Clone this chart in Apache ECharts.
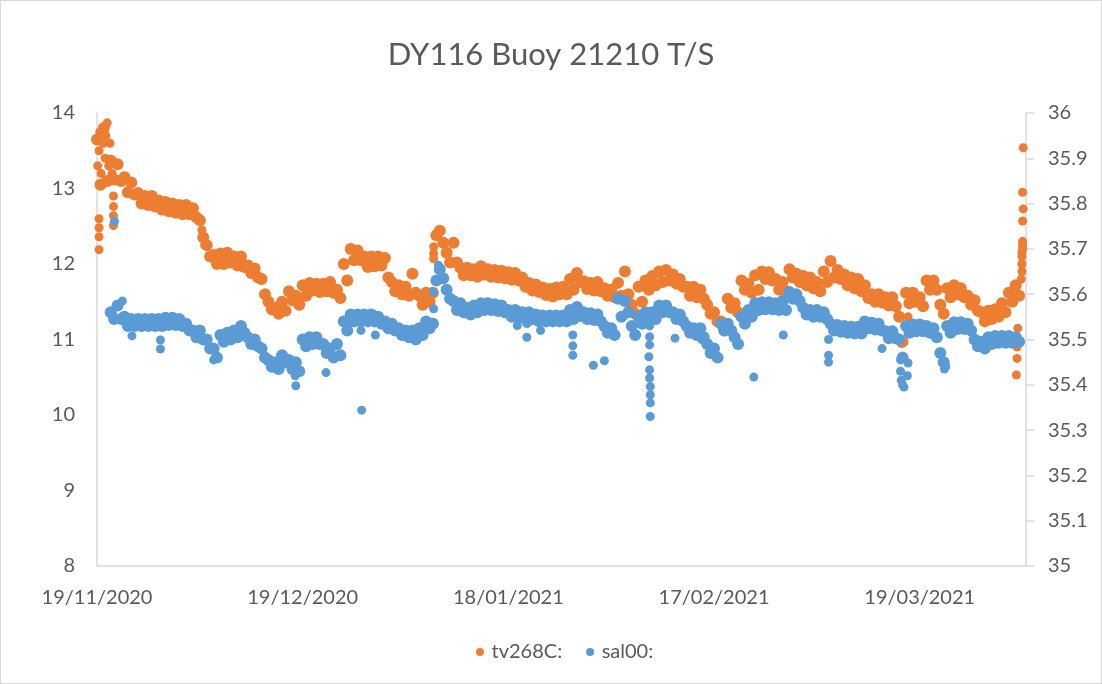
<!DOCTYPE html>
<html>
<head>
<meta charset="utf-8">
<script src="https://cdn.jsdelivr.net/npm/echarts@6/dist/echarts.min.js"></script>
<style>
  html, body { margin: 0; padding: 0; background: #fff; }
  #chart { width: 1102px; height: 684px; box-sizing: border-box; border: 1px solid #d9d9d9; }
</style>
</head>
<body>
<div id="chart"></div>
<script>
// day 0 = 19/11/2020, samples every half day
const startDate = Date.UTC(2020, 10, 19)
const step = 0.5

const xTickDays = [0, 30, 60, 90, 120]

// tv268C: temperature, from day 0 (two readings per day)
const temp = [
  13.65, 13.05, 13.8, 13.1, 13.37, 13.12, 13.32, 13.1, 13.15, 12.95,
  13.08, 12.92, 12.94, 12.8, 12.9, 12.78, 12.9, 12.76, 12.84, 12.72,
  12.82, 12.7, 12.8, 12.68, 12.78, 12.66, 12.78, 12.66, 12.74, 12.62,
  12.58, 12.35, 12.25, 12.1, 12.12, 12.0, 12.14, 12.0, 12.15, 12.02,
  12.1, 11.98, 12.1, 11.96, 11.98, 11.88, 11.94, 11.82, 11.8, 11.6,
  11.5, 11.4, 11.42, 11.34, 11.5, 11.38, 11.64, 11.52, 11.58, 11.46,
  11.72, 11.58, 11.75, 11.65, 11.74, 11.63, 11.74, 11.64, 11.76, 11.62,
  11.66, 11.55, 12.0, 11.78, 12.2, 12.05, 12.18, 12.05, 12.1, 11.96,
  12.1, 11.97, 12.1, 11.98, 12.08, 11.82, 11.76, 11.64, 11.72, 11.6,
  11.7, 11.58, 11.87, 11.62, 11.58, 11.46, 11.62, 11.5, 11.62, 12.38,
  12.44, 12.28, 12.15, 12.02, 12.28, 12.02, 11.95, 11.85, 11.95, 11.85,
  11.93, 11.83, 11.97, 11.86, 11.93, 11.83, 11.92, 11.82, 11.91, 11.81,
  11.89, 11.79, 11.88, 11.78, 11.82, 11.7, 11.75, 11.65, 11.73, 11.63,
  11.69, 11.59, 11.67, 11.57, 11.69, 11.6, 11.7, 11.6, 11.8, 11.66,
  11.88, 11.76, 11.77, 11.67, 11.75, 11.65, 11.76, 11.64, 11.68, 11.58,
  11.66, 11.56, 11.75, 11.58, 11.9, 11.6, 11.46, 11.34, 11.7, 11.5,
  11.78, 11.66, 11.84, 11.72, 11.9, 11.76, 11.92, 11.78, 11.86, 11.74,
  11.8, 11.7, 11.7, 11.58, 11.7, 11.56, 11.66, 11.54, 11.46, 11.34,
  11.36, 11.24, 11.24, 11.12, 11.54, 11.42, 11.48, 11.36, 11.78, 11.66,
  11.74, 11.62, 11.85, 11.66, 11.9, 11.8, 11.89, 11.78, 11.8, 11.66,
  11.76, 11.64, 11.93, 11.82, 11.87, 11.76, 11.84, 11.72, 11.82, 11.68,
  11.76, 11.64, 11.9, 11.76, 12.04, 11.82, 11.92, 11.8, 11.86, 11.72,
  11.82, 11.68, 11.8, 11.64, 11.72, 11.55, 11.6, 11.5, 11.6, 11.49,
  11.56, 11.45, 11.56, 11.44, 11.3, 10.97, 11.62, 11.48, 11.62, 11.5,
  11.56, 11.44, 11.78, 11.66, 11.78, 11.66, 11.46, 11.34, 11.68, 11.56,
  11.72, 11.6, 11.68, 11.56, 11.58, 11.46, 11.52, 11.38, 11.36, 11.24,
  11.38, 11.27, 11.4, 11.3, 11.48, 11.36, 11.62, 11.5, 11.72, 11.58
]

// stray temperature readings [day, value]
const tempExtra = [
  [0.1, 13.3], [0.3, 13.5], [0.6, 13.2], [0.9, 13.6], [1.2, 13.4], [1.3, 13.7],
  [1.5, 13.87], [1.7, 13.3], [1.9, 13.6], [0.4, 13.75], [2.2, 13.2],
  [0.3, 12.6], [0.3, 12.48], [0.3, 12.36], [0.3, 12.19],
  [2.4, 12.9], [2.4, 12.76], [2.4, 12.64], [2.4, 12.51],
  [15.3, 12.45], [15.7, 12.25], [49.1, 12.23], [49.1, 12.14], [49.1, 12.07],
  [117.3, 10.95], [118.3, 11.3],
  [134.3, 11.15], [134.2, 10.9], [134.2, 10.75], [134.1, 10.53],
  [134.8, 11.8], [134.9, 11.9], [134.9, 12.0], [134.9, 12.1], [134.9, 12.15],
  [135.0, 12.2], [135.0, 12.25], [135.0, 12.3], [135.0, 12.57], [135.1, 12.73],
  [135.0, 12.95], [135.1, 13.54]
]

// sal00: salinity, from day 2 (two readings per day)
const salStart = 2
const sal = [
  35.56, 35.545, 35.575, 35.545, 35.55, 35.53,
  35.545, 35.53, 35.545, 35.53, 35.545, 35.53, 35.545, 35.53, 35.545, 35.53,
  35.548, 35.532, 35.548, 35.532, 35.545, 35.53, 35.535, 35.52, 35.52, 35.505,
  35.52, 35.5, 35.5, 35.48, 35.48, 35.46, 35.51, 35.495, 35.515, 35.5,
  35.52, 35.505, 35.53, 35.515, 35.505, 35.49, 35.5, 35.485, 35.48, 35.46,
  35.455, 35.44, 35.45, 35.435, 35.465, 35.45, 35.455, 35.435, 35.45, 35.43,
  35.5, 35.485, 35.505, 35.49, 35.505, 35.49, 35.49, 35.47, 35.48, 35.46,
  35.49, 35.465, 35.54, 35.52, 35.555, 35.54, 35.555, 35.54, 35.555, 35.54,
  35.555, 35.54, 35.55, 35.535, 35.54, 35.525, 35.535, 35.52, 35.525, 35.51,
  35.52, 35.505, 35.52, 35.5, 35.525, 35.51, 35.54, 35.525, 35.535, 35.63,
  35.655, 35.635, 35.61, 35.59, 35.585, 35.565, 35.58, 35.56, 35.57, 35.555,
  35.575, 35.56, 35.58, 35.565, 35.58, 35.565, 35.578, 35.563, 35.575, 35.56,
  35.565, 35.55, 35.565, 35.55, 35.56, 35.545, 35.56, 35.545, 35.555, 35.54,
  35.553, 35.54, 35.553, 35.54, 35.553, 35.54, 35.553, 35.54, 35.565, 35.545,
  35.572, 35.552, 35.56, 35.545, 35.558, 35.543, 35.555, 35.54, 35.53, 35.515,
  35.525, 35.51, 35.59, 35.55, 35.585, 35.56, 35.53, 35.51, 35.55, 35.535,
  35.56, 35.545, 35.56, 35.545, 35.575, 35.56, 35.575, 35.56, 35.56, 35.545,
  35.555, 35.54, 35.53, 35.515, 35.525, 35.51, 35.525, 35.505, 35.49, 35.47,
  35.48, 35.46, 35.535, 35.52, 35.535, 35.52, 35.505, 35.49, 35.55, 35.535,
  35.565, 35.55, 35.58, 35.565, 35.582, 35.567, 35.582, 35.567, 35.58, 35.565,
  35.585, 35.565, 35.605, 35.59, 35.6, 35.585, 35.57, 35.555, 35.565, 35.55,
  35.565, 35.55, 35.56, 35.545, 35.535, 35.52, 35.532, 35.517, 35.53, 35.515,
  35.528, 35.513, 35.528, 35.513, 35.54, 35.525, 35.537, 35.522, 35.535, 35.52,
  35.518, 35.503, 35.518, 35.503, 35.5, 35.46, 35.53, 35.515, 35.533, 35.518,
  35.533, 35.518, 35.53, 35.515, 35.525, 35.505, 35.47, 35.45, 35.53, 35.515,
  35.538, 35.523, 35.538, 35.523, 35.535, 35.52, 35.5, 35.485, 35.495, 35.48,
  35.505, 35.49, 35.508, 35.493, 35.508, 35.493, 35.508, 35.493, 35.505, 35.495
]

// stray salinity readings [day, value]
const salExtra = [
  [2.55, 35.761], [3.7, 35.585], [5.1, 35.508], [9.25, 35.499], [9.25, 35.479], [17, 35.455],
  [28.9, 35.42], [29, 35.398], [33.4, 35.427], [38.5, 35.52], [38.6, 35.344], [40.6, 35.51],
  [49.1, 35.605], [49.1, 35.568], [49.8, 35.664],
  [61.3, 35.531], [62.7, 35.535], [62.7, 35.505], [64.7, 35.52],
  [69.4, 35.51], [69.4, 35.486], [69.4, 35.465], [72.4, 35.443], [74, 35.453],
  [80.6, 35.53], [80.6, 35.506], [80.6, 35.488], [80.5, 35.462], [80.6, 35.433],
  [80.6, 35.415], [80.7, 35.396], [80.7, 35.378], [80.7, 35.36], [80.7, 35.33],
  [84.3, 35.503], [88.2, 35.5], [90.7, 35.46], [95.8, 35.417], [100.1, 35.51],
  [106.7, 35.5], [106.7, 35.465], [106.7, 35.45], [114.5, 35.48],
  [117.2, 35.455], [117.2, 35.43], [117.3, 35.41], [117.5, 35.4], [117.7, 35.395],
  [118.2, 35.42], [118.3, 35.448],
  [123.4, 35.45], [123.6, 35.435], [123.8, 35.44]
]

const tempData = temp.map((v, i) => [i * step, v]).concat(tempExtra)
const salData = sal.map((v, i) => [salStart + i * step, v]).concat(salExtra)

// regular readings overlap into a band, stray ones stay smaller
const bandSize = 12
const dotSize = 9

function fmtDate(day) {
  const d = new Date(startDate + Math.round(day) * 86400000)
  const dd = String(d.getUTCDate()).padStart(2, '0')
  const mm = String(d.getUTCMonth() + 1).padStart(2, '0')
  return dd + '/' + mm + '/' + d.getUTCFullYear()
}

function sizeFor(n) {
  return (val, p) => (p && p.dataIndex < n ? bandSize : dotSize)
}

const font = 'Lato, "Open Sans", sans-serif'
const textColor = '#595959'
const lineColor = '#d9d9d9'

const chart = echarts.init(document.getElementById('chart'))
chart.setOption({
  animation: false,
  textStyle: { fontFamily: font },
  title: {
    text: 'DY116 Buoy 21210 T/S',
    left: 'center',
    top: 33,
    textStyle: { fontFamily: font, fontSize: 31, fontWeight: 'normal', color: textColor }
  },
  legend: {
    bottom: 16,
    left: 470,
    itemWidth: 13,
    itemHeight: 8,
    itemGap: 24,
    icon: 'circle',
    textStyle: { fontFamily: font, fontSize: 20, color: textColor },
    data: ['tv268C:', 'sal00:']
  },
  grid: { left: 96, right: 75, top: 112, bottom: 117 },
  xAxis: {
    type: 'value',
    min: 0,
    max: 135.5,
    interval: 30,
    axisLine: { lineStyle: { color: lineColor, width: 1.5 } },
    axisTick: { show: false },
    splitLine: { show: false },
    axisLabel: {
      margin: 22,
      fontSize: 20,
      color: textColor,
      showMaxLabel: false,
      formatter: v => (xTickDays.includes(v) ? fmtDate(v) : '')
    }
  },
  yAxis: [{
    type: 'value',
    min: 8,
    max: 14,
    interval: 1,
    axisLine: { show: true, lineStyle: { color: lineColor, width: 1.5 } },
    axisTick: { show: false },
    splitLine: { show: false },
    axisLabel: { margin: 22, fontSize: 20, color: textColor }
  }, {
    type: 'value',
    min: 35,
    max: 36,
    interval: 0.1,
    position: 'right',
    axisLine: { show: true, lineStyle: { color: lineColor, width: 1.5 } },
    axisTick: { show: true, length: 8, lineStyle: { color: lineColor, width: 1.5 } },
    splitLine: { show: false },
    axisLabel: {
      margin: 22,
      fontSize: 20,
      color: textColor,
      formatter: v => String(Math.round(v * 10) / 10)
    }
  }],
  series: [{
    name: 'tv268C:',
    type: 'scatter',
    yAxisIndex: 0,
    symbolSize: sizeFor(temp.length),
    itemStyle: { color: '#ed7d31', opacity: 1 },
    data: tempData
  }, {
    name: 'sal00:',
    type: 'scatter',
    yAxisIndex: 1,
    symbolSize: sizeFor(sal.length),
    itemStyle: { color: '#5b9bd5', opacity: 1 },
    data: salData
  }]
})
</script>
</body>
</html>
